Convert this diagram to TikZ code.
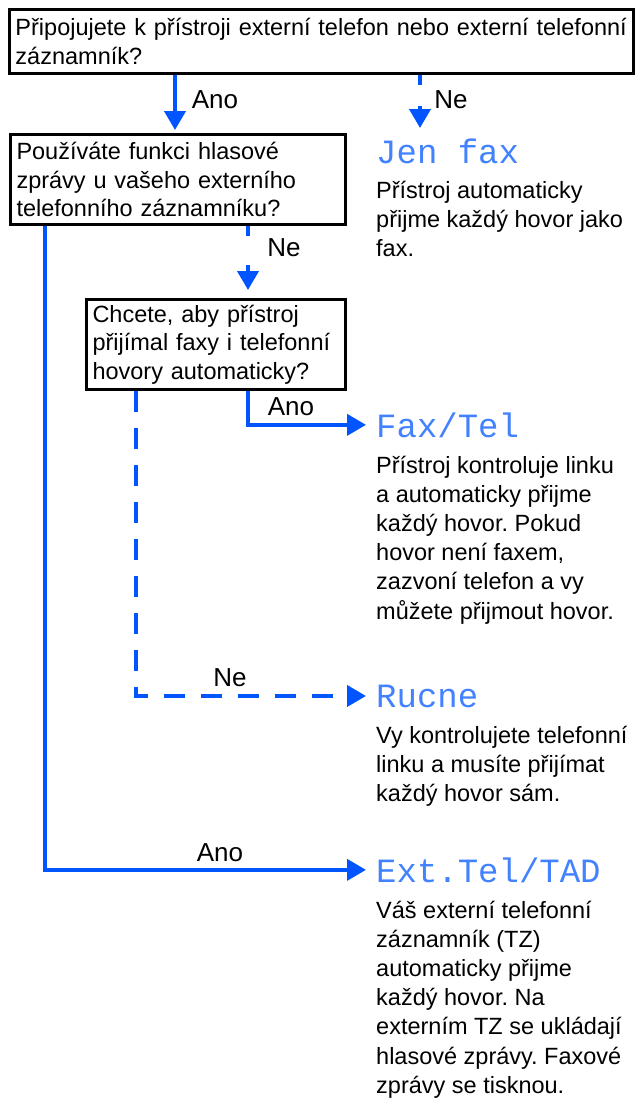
\documentclass[tikz,border=0pt]{standalone}
\usepackage{fontspec}
\setmainfont{Liberation Sans}
\newfontfamily\monof{Liberation Mono}
\usetikzlibrary{arrows.meta}
\definecolor{flowblue}{RGB}{0,85,255}
\definecolor{optblue}{RGB}{66,130,255}
\frenchspacing
\begin{document}
\begin{tikzpicture}[x=1pt,y=-1pt,
  txt/.style={font=\fontsize{23.5}{29.2}\selectfont, inner sep=0pt},
  qbox/.style={draw, line width=3pt, anchor=north west, inner xsep=6pt, inner ysep=0pt, align=left, font=\fontsize{23.5}{28.7}\selectfont},
  opt/.style={font=\monof\fontsize{34}{34}\selectfont, text=optblue, inner sep=0pt, anchor=base west},
  desc/.style={txt, anchor=base west},
  lbl/.style={font=\fontsize{26}{30}\selectfont, inner sep=0pt, anchor=center},
  flow/.style={draw=flowblue, line width=4pt, -{Triangle[length=19pt,width=21pt]}},
  dflow/.style={flow, dash pattern=on 21pt off 16pt}
]
\fill[white] (0,0) rectangle (635,1104);
\useasboundingbox (0,0) rectangle (635,1104);

% question boxes
\node[qbox, text width=612pt, minimum height=64pt] (q1) at (8,8)
  {Připojujete k přístroji externí telefon nebo externí telefonní\\záznamník?};
\node[qbox, text width=323pt, minimum height=90pt] (q2) at (9,133)
  {Používáte funkci hlasové\\zprávy u vašeho externího\\telefonního záznamníku?};
\node[qbox, text width=247pt, minimum height=90pt] (q3) at (85,298)
  {Chcete, aby přístroj\\přijímal faxy i telefonní\\hovory automaticky?};

% options
\node[opt] (jen) at (376,163) {Jen fax};
\node[desc] (jenD) at (376,198) {\parbox[t]{259pt}{\raggedright Přístroj automaticky\\přijme každý hovor jako\\fax.}};

\node[opt] (fax) at (376,437) {Fax/Tel};
\node[desc] (faxD) at (376,473) {\parbox[t]{259pt}{\raggedright Přístroj kontroluje linku\\a automaticky přijme\\každý hovor. Pokud\\hovor není faxem,\\zazvoní telefon a vy\\můžete přijmout hovor.}};

\node[opt] (ruc) at (376,707) {Rucne};
\node[desc] (rucD) at (376,743) {\parbox[t]{259pt}{\raggedright Vy kontrolujete telefonní\\linku a musíte přijímat\\každý hovor sám.}};

\node[opt] (ext) at (376,882) {Ext.Tel/TAD};
\node[desc] (extD) at (376,918) {\parbox[t]{259pt}{\raggedright Váš externí telefonní\\záznamník (TZ)\\automaticky přijme\\každý hovor. Na\\externím TZ se ukládají\\hlasové zprávy. Faxové\\zprávy se tisknou.}};

% connectors
\coordinate (jtip) at (420,128);
\draw[flow] ([xshift=167pt]q1.south west) -- ([xshift=166pt,yshift=3pt]q2.north west);
\draw[flow, dash pattern=on 10pt off 21pt] ([xshift=412pt]q1.south west) -- (jtip);
\draw[flow, dash pattern=on 10pt off 29pt] ([xshift=239pt]q2.south west) -- ([xshift=163pt,yshift=8pt]q3.north west);
\draw[flow] ([xshift=163pt]q3.south west) |- ([xshift=-10pt]fax.west);
\draw[dflow] ([xshift=51pt]q3.south west) |- ([xshift=-10pt]ruc.west);
\draw[flow] ([xshift=36pt]q2.south west) |- ([xshift=-10pt]ext.west);

% labels
\node[lbl] (l1) at (215,100) {Ano};
\node[lbl] (l2) at (451,100) {Ne};
\node[lbl] (l3) at (284,248) {Ne};
\node[lbl] (l4) at (291,407) {Ano};
\node[lbl] (l5) at (230,678) {Ne};
\node[lbl] (l6) at (220,853) {Ano};
\end{tikzpicture}
\end{document}
